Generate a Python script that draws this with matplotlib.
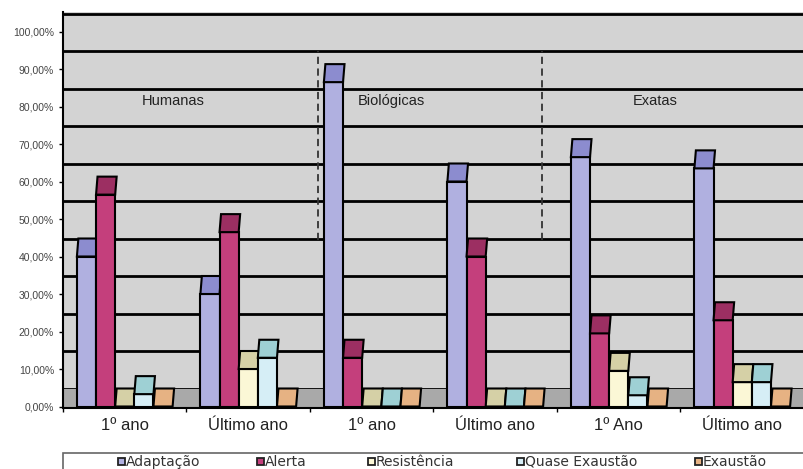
import matplotlib
matplotlib.use("Agg")
import matplotlib.pyplot as plt
from matplotlib.patches import Rectangle, Polygon

# data per course / year
grupos = ['1º ano', 'Último ano', '1º ano', 'Último ano', '1º Ano', 'Último ano']
areas = ['Humanas', 'Biológicas', 'Exatas']
series = ['Adaptação', 'Alerta', 'Resistência', 'Quase Exaustão', 'Exaustão']
adaptacao = [40, 30, 86.5, 60, 66.5, 63.5]
alerta = [56.5, 46.5, 13, 40, 19.5, 23]
resistencia = [0, 10, 0, 0, 9.5, 6.5]
quase_exaustao = [3.3, 13, 0, 0, 3, 6.5]
exaustao = [0, 0, 0, 0, 0, 0]
valores = [adaptacao, alerta, resistencia, quase_exaustao, exaustao]

# front colour / top colour for each series
cor_frente = ['#B0B0E0', '#C43F7C', '#FBF7D6', '#D6EEF6', '#E6B283']
cor_topo = ['#8C8CCF', '#9C2F62', '#D5D0A6', '#9ED0D4', '#E6B283']
cor_parede = '#D3D3D3'
cor_chao = '#A9A9A9'

prof = 4.8      # depth of the 3d effect, in value units
inc = 0.012     # slant of the top faces
larg = 0.155    # bar width
margem = 0.1125

plt.rcParams['font.family'] = ['Liberation Sans', 'DejaVu Sans']

fig = plt.figure(figsize=(8.04, 4.69), dpi=100)
ax = fig.add_axes([63 / 804, 61 / 469, 741 / 804, 396 / 469])
ax.set_facecolor(cor_parede)
ax.set_xlim(0, 741 / 124.5)
ax.set_ylim(-0.4, 105.2)

# back wall grid
for v in range(0, 101, 10):
    ax.axhline(v + prof, color='black', lw=2, zorder=1)

# separators between the areas
for xs in [2.064, 3.88]:
    ax.plot([xs, xs], [44.3, 94.9], color='#333333', lw=1.3, ls=(0, (4, 2.5)), zorder=1.5)

# floor
ax.add_patch(Rectangle((0, 0), 6.5, prof, facecolor=cor_chao, edgecolor='none', zorder=2))

for g in range(len(grupos)):
    for i in range(len(series)):
        v = valores[i][g]
        x0 = g + margem + i * larg
        if v > 0:
            ax.add_patch(Rectangle((x0, 0), larg, v, facecolor=cor_frente[i],
                                   edgecolor='black', lw=1.5, zorder=3))
        ax.add_patch(Polygon([(x0, v), (x0 + larg, v), (x0 + larg + inc, v + prof),
                              (x0 + inc, v + prof)], closed=True,
                             facecolor=cor_topo[i], edgecolor='black', lw=1.5, zorder=3))

# area titles
for txt, xt in zip(areas, [0.892, 2.659, 4.795]):
    ax.text(xt, 81.6, txt, ha='center', va='center', fontsize=10.5, color='#222222', zorder=4)

ax.spines['top'].set_visible(False)
ax.spines['right'].set_visible(False)
ax.spines['left'].set_linewidth(1.5)
ax.spines['bottom'].set_linewidth(1.5)
ax.spines['bottom'].set_zorder(5)

ax.set_yticks(range(0, 101, 10))
ax.set_yticklabels([('%.2f%%' % v).replace('.', ',') for v in range(0, 101, 10)],
                   fontsize=7.5, color='#444444')
ax.tick_params(axis='y', length=3, width=1, pad=3.5)

ax.set_xticks(range(0, 7))
ax.set_xticklabels([])
ax.set_xticks([g + 0.5 for g in range(6)], minor=True)
ax.set_xticklabels(grupos, minor=True, fontsize=12, color='#222222')
ax.tick_params(axis='x', which='major', length=3, width=1)
ax.tick_params(axis='x', which='minor', length=0, pad=7)

# legend box along the bottom
fig.patches.append(Rectangle((63 / 804, -0.05), 760 / 804, (469 - 453) / 469 + 0.05,
                             transform=fig.transFigure, facecolor='white',
                             edgecolor='#666666', lw=1.2))
leg_x = [118, 257, 368, 517, 695]
for i, nome in enumerate(series):
    fig.patches.append(Rectangle(((leg_x[i]) / 804, (469 - 465) / 469), 7 / 804, 7 / 469,
                                 transform=fig.transFigure, facecolor=cor_frente[i],
                                 edgecolor='#222222', lw=1.3))
    fig.text((leg_x[i] + 8) / 804, (469 - 461.5) / 469, nome, fontsize=10,
             family='DejaVu Sans', color='#333333', va='center', ha='left')

fig.savefig('out.png', dpi=100)
